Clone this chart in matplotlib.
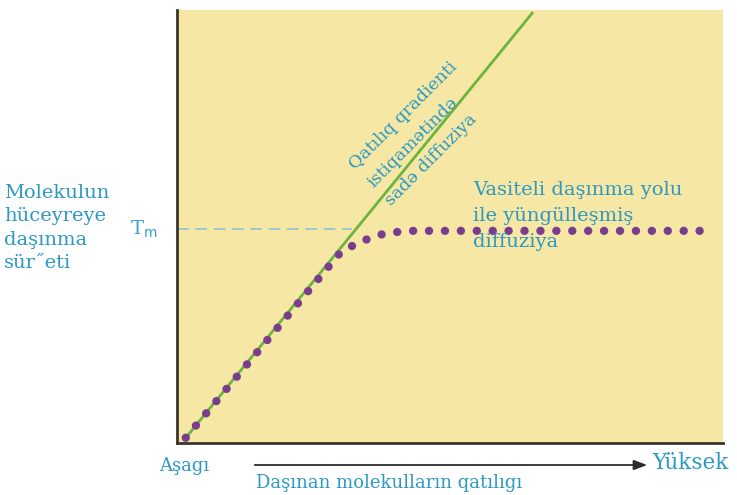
import matplotlib
matplotlib.use("Agg")
import matplotlib.pyplot as plt

# saturation curve (facilitated diffusion)
curve_x = [1.6, 30.0, 32.8, 35.3, 38.3, 42.7, 96.3]
curve_y = [1.2, 44.1, 46.0, 47.3, 48.5, 49.0, 49.0]

# straight line (simple diffusion)
line_x = [1.6, 65.2]
line_y = [1.2, 99.5]

# Tm level
tm_level = 49.4
tm_end = 32.0

y_label = "Molekulun\nhüceyreye\ndaşınma\nsür\u02ddeti"
line_label = "Qatılıq qradienti\nistiqamətində\nsadə diffuziya"
curve_label = "Vasiteli daşınma yolu\nile yüngülleşmiş\ndiffuziya"
x_low, x_high = "Aşagı", "Yüksek"
x_label = "Daşınan molekulların qatılıgı"

blue = "#2c98c4"
W, H = 737, 495

fig = plt.figure(figsize=(W / 100, H / 100), dpi=100)
fig.patch.set_facecolor("white")
ax = fig.add_axes([177 / W, 1 - 443 / H, 546 / W, 433 / H])
ax.set_facecolor("#f6e8a4")
ax.set_xlim(0, 100)
ax.set_ylim(0, 100)
ax.set_xticks([])
ax.set_yticks([])
for s in ("top", "right"):
    ax.spines[s].set_visible(False)
for s in ("left", "bottom"):
    ax.spines[s].set_color("#3a3528")
    ax.spines[s].set_linewidth(2)

ax.plot([0, tm_end], [tm_level, tm_level], color="#8fc3d6", lw=1.2,
        dashes=(7, 4))
ax.plot(line_x, line_y, color="#6cb33f", lw=2, solid_capstyle="butt")
ax.plot(curve_x, curve_y, color="#7a3d8e", lw=6, linestyle=(0, (0.01, 1.9)),
        dash_capstyle="round")

def ftext(px, py, s, **kw):
    fig.text(px / W, 1 - py / H, s, family="DejaVu Serif", **kw)

ftext(4, 184, y_label, color=blue, fontsize=14, va="top",
      linespacing=1.38)
ftext(130, 229, "T$_{\\rm m}$", color="#3aa0cc", fontsize=14, va="center")
ftext(370, 185, line_label, color=blue, fontsize=12.5, ha="left",
      va="center", rotation=45, rotation_mode="anchor", multialignment="left",
      linespacing=1.65)
ftext(473, 181, curve_label, color=blue, fontsize=14, va="top",
      linespacing=1.58)
ftext(159, 466, x_low, color=blue, fontsize=13, va="center")
ftext(652, 463, x_high, color=blue, fontsize=15.5, va="center")
ftext(256, 483, x_label, color=blue, fontsize=13, va="center")

fig.add_artist(matplotlib.patches.FancyArrowPatch(
    (252 / W, 1 - 465 / H), (650 / W, 1 - 465 / H), transform=fig.transFigure,
    arrowstyle="-|>,head_length=8,head_width=3", color="#2d2d2d", lw=1.3))

fig.savefig("out.png", dpi=100)
